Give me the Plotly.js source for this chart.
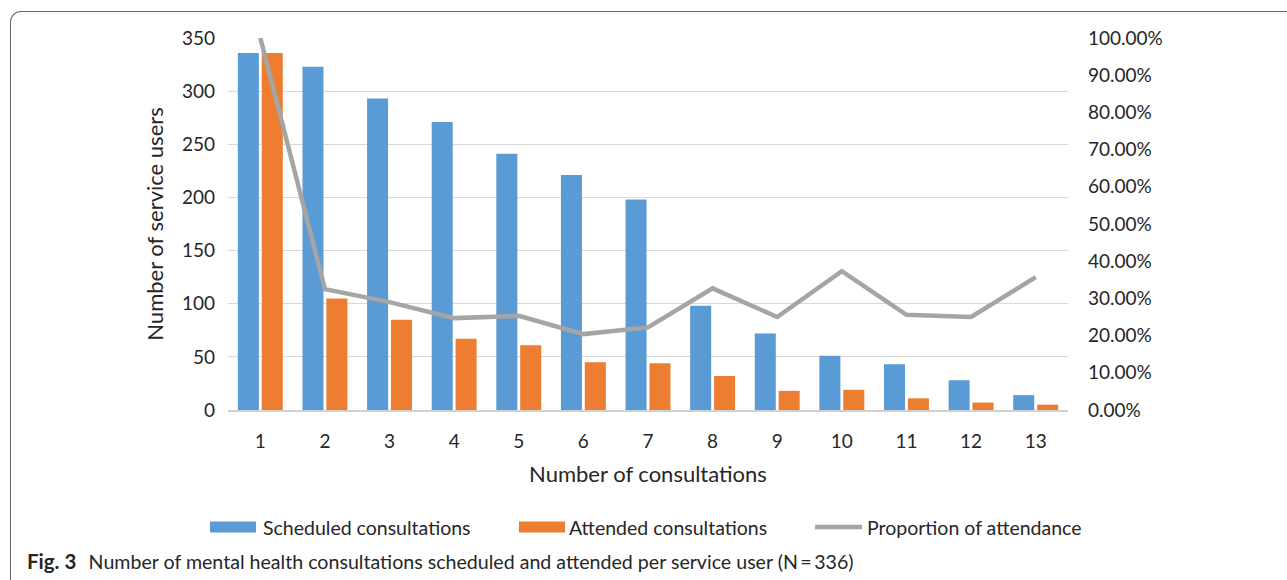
<!DOCTYPE html>
<html>
<head>
<meta charset="utf-8">
<script src="https://cdn.plot.ly/plotly-3.0.1.min.js"></script>
<style>
  html, body { margin: 0; padding: 0; background: #fff; }
  #wrap { position: relative; width: 1287px; height: 580px; overflow: hidden; }
  #chart { position: absolute; left: 0; top: 0; width: 1287px; height: 580px; }
  #frame { position: absolute; left: 10px; top: 11px; width: 1400px; height: 700px;
           border-top: 1.5px solid #6a6a6a; border-left: 1.5px solid #6a6a6a;
           border-top-left-radius: 11px; pointer-events: none; z-index: 5; }
</style>
</head>
<body>
<div id="wrap">
  <div id="chart"></div>
  <div id="frame"></div>
</div>
<script>
// ---- data ----
const categories = ['1','2','3','4','5','6','7','8','9','10','11','12','13'];
const scheduled  = [336, 323, 293, 271, 241, 221, 198, 98, 72, 51, 43, 28, 14];
const attended   = [336, 105, 85, 67, 61, 45, 44, 32, 18, 19, 11, 7, 5];
const proportion = [1.000, 0.325, 0.290, 0.247, 0.253, 0.204, 0.222, 0.327, 0.250, 0.373, 0.256, 0.250, 0.357];
const seriesNames = ['Scheduled consultations', 'Attended consultations', 'Proportion of attendance'];
const xTitle = 'Number of consultations';
const yTitle = 'Number of service users';
const captionBold = 'Fig. 3';
const captionText = 'Number of mental health consultations scheduled and attended per service user (N\u2009=\u2009336)';

// ---- styling ----
const BLUE = '#5B9BD5', ORANGE = '#ED7D31', GREY = '#A5A5A5', TXT = '#262626';
const FONT = 'Lato, "Open Sans", sans-serif';
const W = 1287, H = 580;
const M = { l: 228, r: 219, t: 38, b: 170 };
const PW = W - M.l - M.r, PH = H - M.t - M.b;
const px = x => (x - M.l) / PW;          // pixel -> paper x
const py = y => (H - M.b - y) / PH;      // pixel -> paper y

const traces = [
  { type: 'bar', name: seriesNames[0], x: categories, y: scheduled,
    marker: { color: BLUE }, showlegend: false, hoverinfo: 'y' },
  { type: 'bar', name: seriesNames[1], x: categories, y: attended,
    marker: { color: ORANGE }, showlegend: false, hoverinfo: 'y' },
  { type: 'scatter', mode: 'lines', name: seriesNames[2], x: categories, y: proportion,
    yaxis: 'y2', line: { color: GREY, width: 4.5 }, showlegend: false, cliponaxis: false }
];

// custom legend
const legY = 527;
const legendItems = [
  { kind: 'rect', color: BLUE,   x0: 210, x1: 256, tx: 261, text: seriesNames[0] },
  { kind: 'rect', color: ORANGE, x0: 519, x1: 565, tx: 567, text: seriesNames[1] },
  { kind: 'line', color: GREY,   x0: 815, x1: 862, tx: 865, text: seriesNames[2] }
];
const shapes = [];
const annotations = [];
legendItems.forEach(it => {
  if (it.kind === 'rect') {
    shapes.push({ type: 'rect', xref: 'paper', yref: 'paper',
      x0: px(it.x0), x1: px(it.x1), y0: py(legY - 5.5), y1: py(legY + 5.5),
      fillcolor: it.color, line: { width: 0 } });
  } else {
    shapes.push({ type: 'line', xref: 'paper', yref: 'paper',
      x0: px(it.x0), x1: px(it.x1), y0: py(legY), y1: py(legY),
      line: { color: it.color, width: 4.5 } });
  }
  annotations.push({ xref: 'paper', yref: 'paper', x: px(it.tx), y: py(legY),
    xanchor: 'left', yanchor: 'middle', showarrow: false, text: it.text,
    font: { family: FONT, size: 19.5, color: TXT } });
});
annotations.push({ xref: 'paper', yref: 'paper', x: px(25), y: py(561),
  xanchor: 'left', yanchor: 'middle', showarrow: false,
  text: '<b><span style="font-size:20.5px">' + captionBold + '</span></b>\u2002\u2009' + captionText,
  font: { family: FONT, size: 19.6, color: TXT } });

const layout = {
  width: W, height: H,
  margin: M,
  paper_bgcolor: '#ffffff', plot_bgcolor: '#ffffff',
  barmode: 'group', bargap: 0.26, bargroupgap: 0.12,
  font: { family: FONT, color: TXT },
  xaxis: {
    type: 'category', showgrid: false, zeroline: false,
    showline: true, linecolor: '#D0D0D0', linewidth: 2,
    ticks: '', tickfont: { family: FONT, size: 19, color: TXT },
    ticklabelstandoff: 13,
    title: { text: xTitle, font: { family: FONT, size: 22, color: TXT }, standoff: 16 }
  },
  yaxis: {
    range: [0, 350], dtick: 50, tick0: 0,
    showgrid: true, gridcolor: '#D9D9D9', gridwidth: 1.2,
    zeroline: false, showline: false, ticks: '',
    tickfont: { family: FONT, size: 19, color: TXT },
    ticklabelstandoff: 12,
    title: { text: yTitle, font: { family: FONT, size: 22, color: TXT }, standoff: 12 }
  },
  yaxis2: {
    overlaying: 'y', side: 'right', range: [0, 1], dtick: 0.1, tick0: 0,
    tickformat: '.2%', showgrid: false, zeroline: false, showline: false, ticks: '',
    tickfont: { family: FONT, size: 19, color: TXT },
    ticklabelstandoff: 19
  },
  shapes: shapes,
  annotations: annotations
};

Plotly.newPlot('chart', traces, layout, { displayModeBar: false, staticPlot: true });
</script>
</body>
</html>
